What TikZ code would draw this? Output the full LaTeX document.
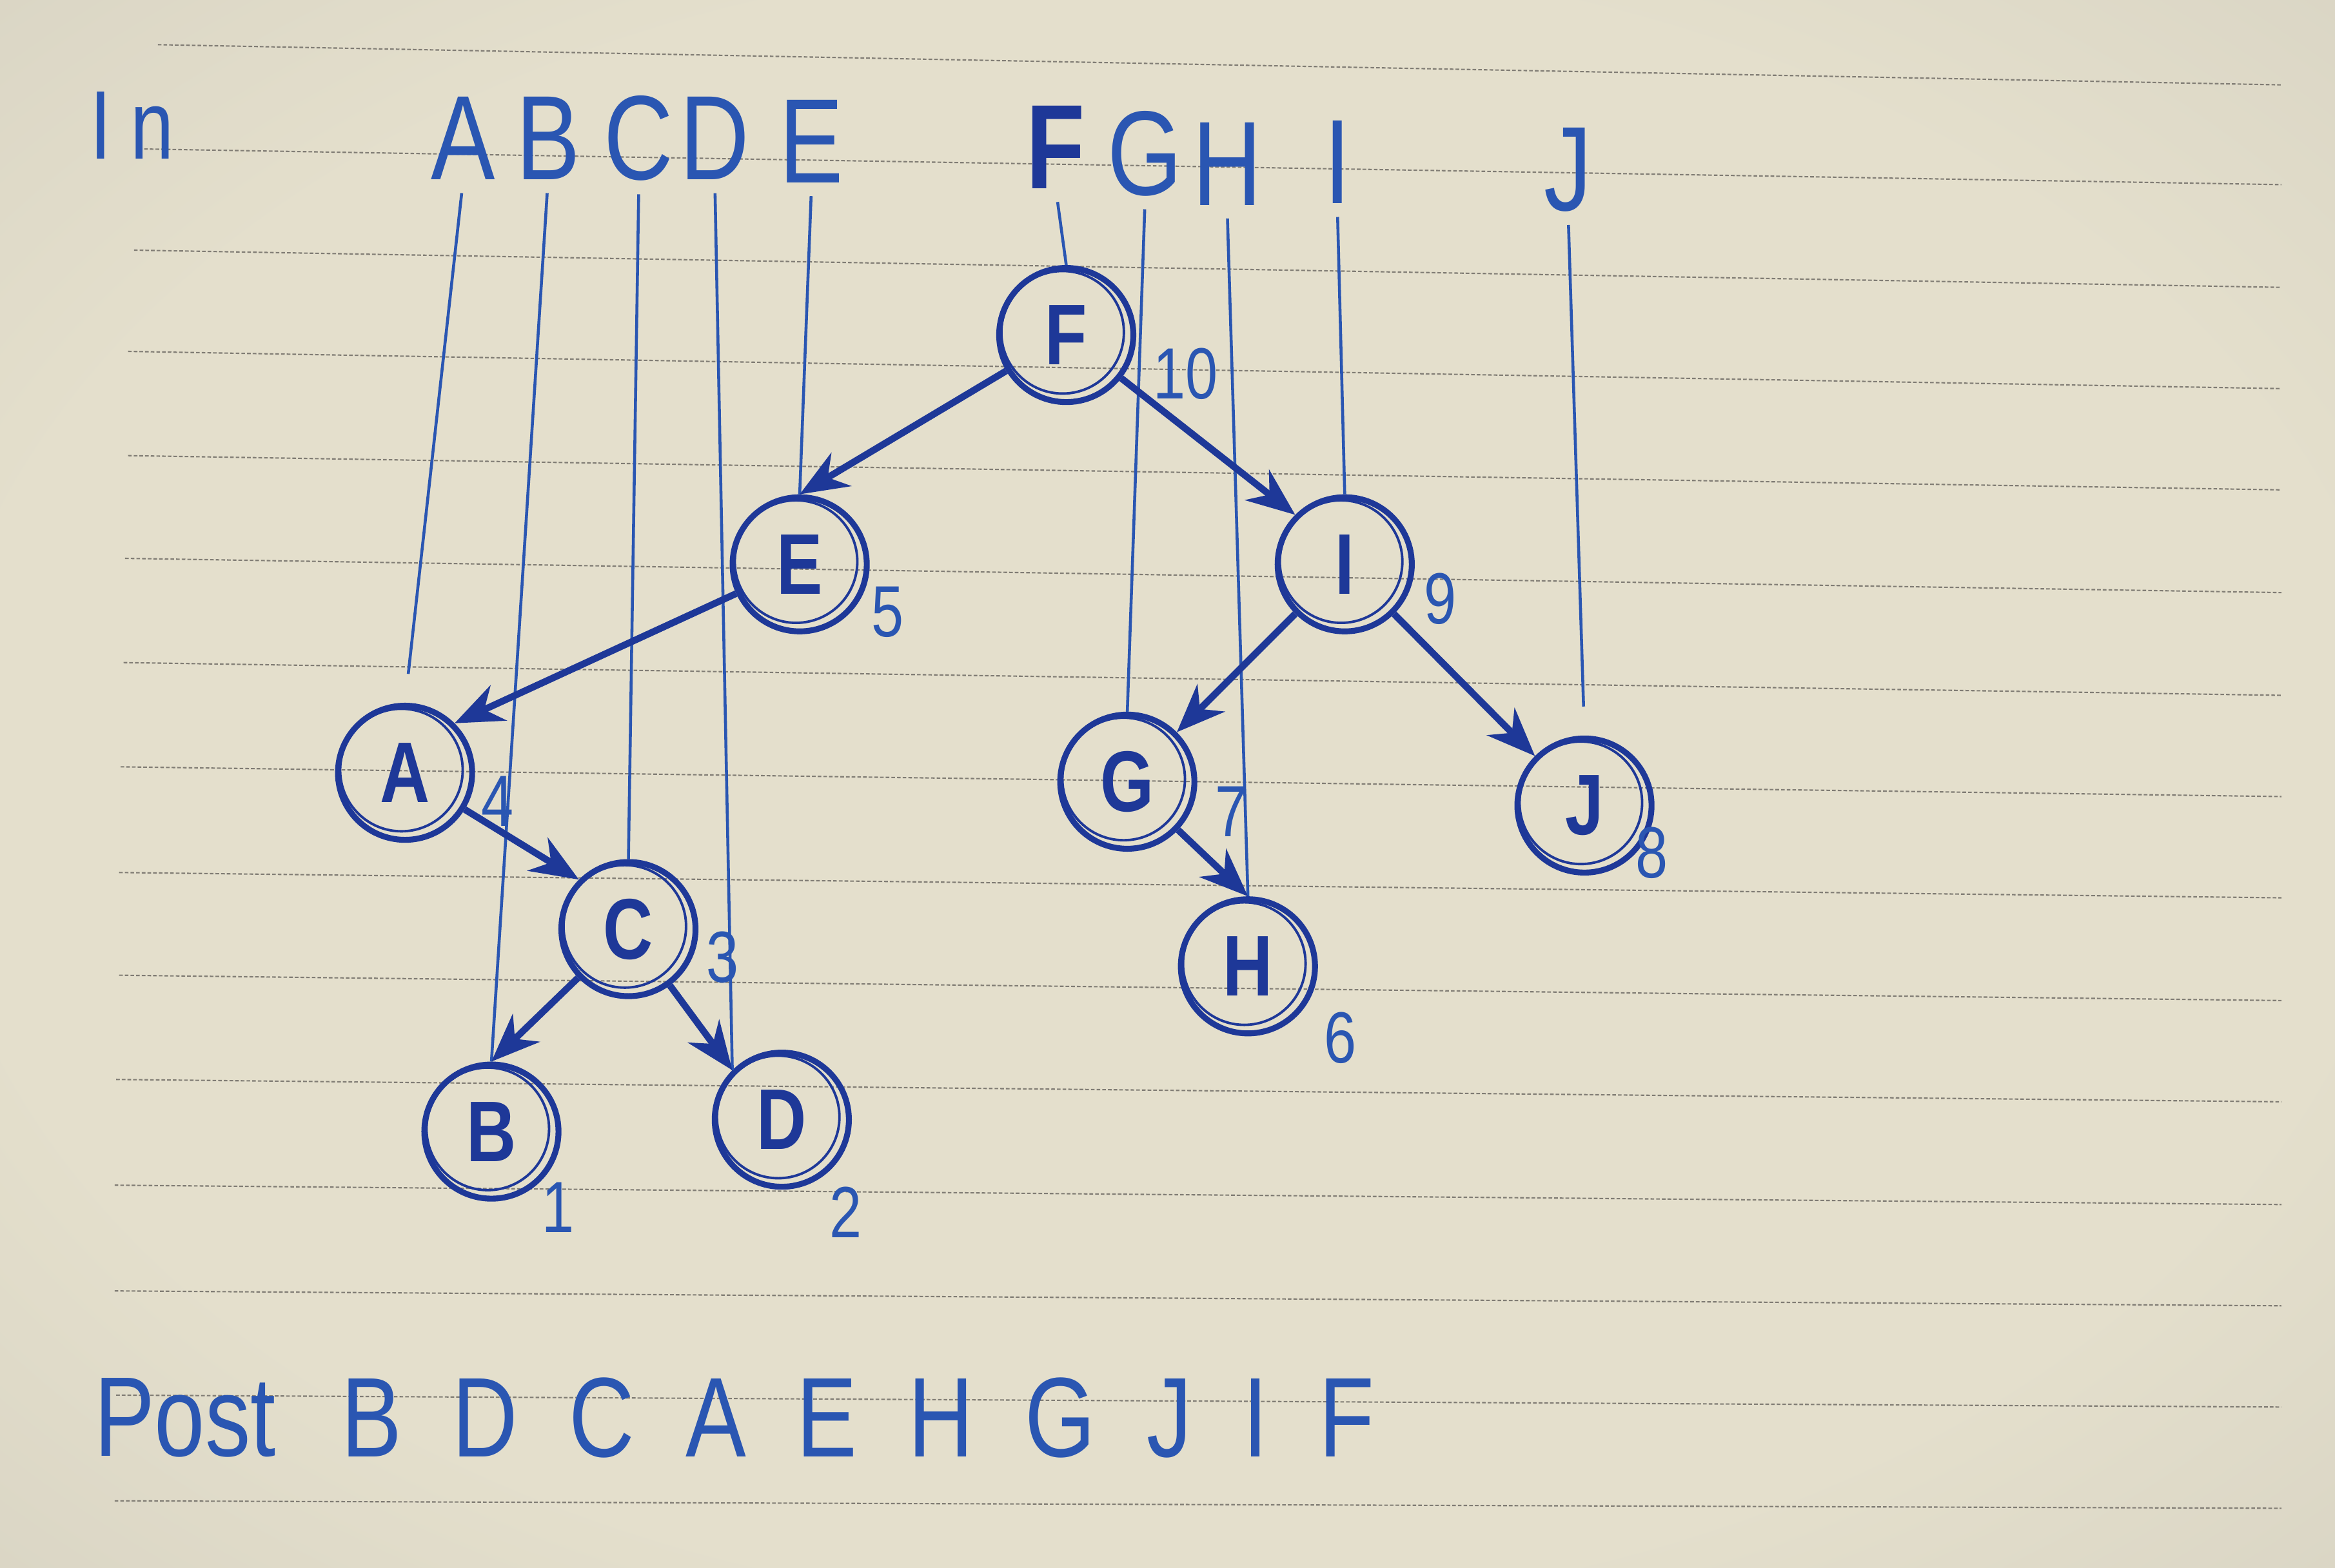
\documentclass[tikz,border=0pt]{standalone}
\usepackage{fontspec}
\setmainfont{Liberation Sans}
\newfontfamily\handfont[FakeStretch=0.8]{Liberation Sans}
\usetikzlibrary{arrows.meta,positioning}

\definecolor{ink}{RGB}{42,86,178}
\definecolor{inkdark}{RGB}{30,56,152}
\definecolor{paperin}{RGB}{228,223,204}
\definecolor{paperout}{RGB}{182,179,170}
\definecolor{rulegray}{RGB}{128,124,116}

\pgfdeclareradialshading{sheet}{\pgfpoint{0bp}{0bp}}{color(0bp)=(paperin); color(26bp)=(paperin); color(72bp)=(paperout)}

\begin{document}
\begin{tikzpicture}[x=0.02309cm, y=-0.02309cm,
    lett/.style={text=ink, inner sep=0pt, font=\handfont\fontsize{53}{53}\selectfont},
    tnode/.style={circle, draw=inkdark, line width=2.6pt, minimum size=2.08cm, inner sep=0pt,
      text=inkdark, font=\handfont\bfseries\fontsize{38}{38}\selectfont,
      path picture={\draw[inkdark, line width=1.1pt] ([shift={(-1.6pt,1.2pt)}]path picture bounding box.center) circle (0.95cm);}},
    num/.style={text=ink, inner sep=0pt, font=\handfont\fontsize{32}{32}\selectfont},
    proj/.style={draw=ink, line width=1.3pt, shorten <=0.2cm},
    ar/.style={draw=inkdark, line width=3pt, -{Stealth[length=0.75cm, width=0.6cm]}},
    sheetline/.style={draw=rulegray, line width=0.6pt, dash pattern=on 1.6pt off 0.9pt}]
    \useasboundingbox (0,0) rectangle (1568,1053);
    \shade[shading=sheet] (0,0) rectangle (1568,1053);
    % ruled paper
    \foreach \xl/\yl/\yr in {106/30/57, 93/100/124, 90/168/193, 86/236/261, 86/306/329,
        84/375/398, 83/445/467, 81/515/535, 80/586/603, 80/655/672, 78/725/740,
        77/796/809, 77/867/877, 78/937/945, 77/1008/1013}
      \draw[sheetline] (\xl,\yl) -- (1532,\yr);

    % in-order row
    \node[lett, anchor=west, font=\handfont\fontsize{43}{43}\selectfont] (in) at (60,84) {\addfontfeature{LetterSpace=20}In};
    \node[lett] (lA) at (311,93) {A};
    \node[lett] (lB) at (368,93) {B};
    \node[lett] (lC) at (429,93) {C};
    \node[lett] (lD) at (480,93) {D};
    \node[lett] (lE) at (545,95) {E};
    \node[lett, text=inkdark, font=\handfont\bfseries\fontsize{53}{53}\selectfont] (lF) at (709,99) {F};
    \node[lett] (lG) at (769,103) {G};
    \node[lett] (lH) at (824,110) {H};
    \node[lett] (lI) at (898,109) {I};
    \node[lett] (lJ) at (1053,114) {J};

    % tree
    \node[tnode] (F) at (716,225) {F};
    \node[tnode] (E) at (537,379) {E};
    \node[tnode] (I) at (903,379) {I};
    \node[tnode] (A) at (272,519) {A};
    \node[tnode] (C) at (422,624) {C};
    \node[tnode] (G) at (757,525) {G};
    \node[tnode] (J) at (1064,541) {J};
    \node[tnode] (H) at (838,649) {H};
    \node[tnode] (B) at (330,760) {B};
    \node[tnode] (D) at (525,752) {D};

    % visit order
    \node[num] (nF) at (796,251) {10};
    \node[num] (nE) at (596,411) {5};
    \node[num] (nI) at (967,402) {9};
    \node[num] (nA) at (334,538) {4};
    \node[num] (nC) at (485,643) {3};
    \node[num] (nG) at (827,545) {7};
    \node[num] (nJ) at (1109,573) {8};
    \node[num] (nH) at (900,697) {6};
    \node[num] (nB) at (375,811) {1};
    \node[num] (nD) at (568,814) {2};

    \draw[proj, shorten >=0.45cm] (lA.south) -- (A.north);
    \draw[proj] (lB.south) -- (B.north);
    \draw[proj] (lC.south) -- (C.north);
    \draw[proj] (lD.south) -- (D.north west);
    \draw[proj] (lE.south) -- (E.north);
    \draw[proj] (lF.south) -- (F.north);
    \draw[proj] (lG.south) -- (G.north);
    \draw[proj] (lH.south) -- (H.north);
    \draw[proj] (lI.south) -- (I.north);
    \draw[proj, shorten >=0.45cm] (lJ.south) -- (J.north);

    \draw[ar] (F) -- (E.north);
    \draw[ar] (F) -- (I.north west);
    \draw[ar] (E) -- (A.north east);
    \draw[ar] (A) -- (C.north west);
    \draw[ar] (C) -- (B.north);
    \draw[ar] (C) -- (D.north west);
    \draw[ar] (I) -- (G.north east);
    \draw[ar] (I) -- (J.north west);
    \draw[ar] (G) -- (H.north);

    % post-order row
    \node[lett, anchor=west, font=\handfont\fontsize{50}{50}\selectfont] (post) at (63,952) {Post};
    \node[lett, right=1cm of post, font=\handfont\fontsize{50}{50}\selectfont] (seq) {\addfontfeature{LetterSpace=45}BDCAEHGJIF};
\end{tikzpicture}
\end{document}
